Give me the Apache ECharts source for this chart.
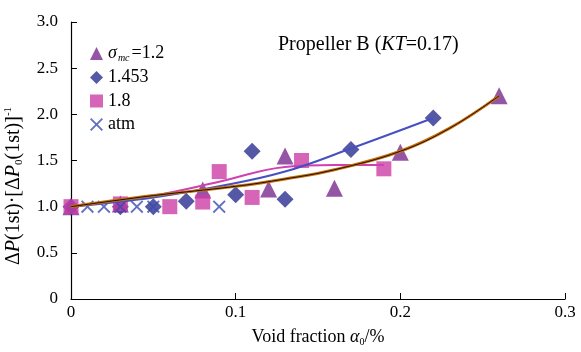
<!DOCTYPE html>
<html><head><meta charset="utf-8">
<script src="https://cdn.jsdelivr.net/npm/echarts@6/dist/echarts.min.js"></script>
<style>html,body{margin:0;padding:0;background:#fff}#c{width:581px;height:352px}</style>
</head><body><div id="c"></div>
<script>
var xTicks = [0, 0.1, 0.2, 0.3];
var yTicks = [0, 0.5, 1.0, 1.5, 2.0, 2.5, 3.0];
var tri = [[0,1.0],[0.03,1.03],[0.08,1.18],[0.12,1.19],[0.13,1.55],[0.16,1.2],[0.2,1.59],[0.26,2.2]];
var dia = [[0,1.0],[0.03,1.0],[0.05,1.0],[0.07,1.06],[0.1,1.13],[0.11,1.6],[0.13,1.08],[0.17,1.62],[0.22,1.96]];
var sq = [[0,1.0],[0.03,1.03],[0.06,1.0],[0.08,1.05],[0.09,1.38],[0.11,1.1],[0.14,1.5],[0.19,1.41]];
var atm = [[0.01,1.0],[0.02,1.0],[0.03,1.0],[0.04,1.0],[0.05,1.0],[0.09,1.0]];
var triFit = [[0,1.0],[0.05,1.12],[0.1,1.22],[0.13,1.3],[0.16,1.4],[0.2,1.6],[0.23,1.85],[0.26,2.2]];
var diaFit = [[0,1.0],[0.05,1.1],[0.09,1.22],[0.13,1.38],[0.17,1.63],[0.22,1.96]];
var sqFit = [[0,1.0],[0.05,1.12],[0.09,1.27],[0.13,1.43],[0.16,1.45],[0.19,1.45]];

var F = 'Liberation Serif';
var crossPath = 'path://M0,1L1,0L5,4L9,0L10,1L6,5L10,9L9,10L5,6L1,10L0,9L4,5Z';
var chart = echarts.init(document.getElementById('c'));
chart.setOption({
  animation: false,
  grid: {left: 71, right: 16, top: 22, bottom: 47},
  xAxis: {type: 'value', min: 0, max: 0.3, interval: 0.1,
    axisLine: {lineStyle: {color: '#000', width: 1.2}},
    axisTick: {inside: true, length: 6, lineStyle: {color: '#000'}},
    splitLine: {show: false},
    axisLabel: {color: '#000', fontFamily: F, fontSize: 17, margin: 5, formatter: function(v){return xTicks.indexOf(+v.toFixed(1))>=0 ? String(+v.toFixed(1)) : '';}},
    name: '{n|Void fraction }{i|α}{s|0}{n|/%}', nameLocation: 'middle', nameGap: 29,
    nameTextStyle: {rich: {
      n: {fontFamily: F, fontSize: 18, color: '#000'},
      i: {fontFamily: F, fontSize: 18, fontStyle: 'italic', color: '#000'},
      s: {fontFamily: F, fontSize: 10, color: '#000', padding: [9,0,0,0]}
    }}
  },
  yAxis: {type: 'value', min: 0, max: 3, interval: 0.5,
    axisLine: {show: true, lineStyle: {color: '#000', width: 1.2}},
    axisTick: {show: true, inside: true, length: 6, lineStyle: {color: '#000'}},
    splitLine: {show: false},
    axisLabel: {color: '#000', fontFamily: F, fontSize: 17, margin: 13, formatter: function(v){return v===0 ? '0' : v.toFixed(1);}}
  },
  legend: {orient: 'vertical', left: 85, top: 39, itemWidth: 13, itemHeight: 13, itemGap: 5.5,
    data: ['t', 'd', 's', 'a'],
    formatter: function(n){
      return {t: '{i|σ}{s|mc}{n|=1.2}', d: '{n|1.453}', s: '{n|1.8}', a: '{n|atm}'}[n];
    },
    textStyle: {rich: {
      n: {fontFamily: F, fontSize: 18, lineHeight: 20, color: '#000'},
      i: {fontFamily: F, fontSize: 18, lineHeight: 20, fontStyle: 'italic', color: '#000'},
      s: {fontFamily: F, fontSize: 10, lineHeight: 20, fontStyle: 'italic', color: '#000', padding: [9,2,0,1]}
    }}
  },
  graphic: [
    {type: 'text', left: 278, top: 35, style: {
      rich: {n: {fontFamily: F, fontSize: 20, fill: '#000'}, i: {fontFamily: F, fontSize: 20, fontStyle: 'italic', fill: '#000'}},
      text: '{n|Propeller B (}{i|KT}{n|=0.17)}'}},
    {type: 'text', x: 14, y: 186, rotation: Math.PI/2, style: {
      align: 'center', verticalAlign: 'middle',
      rich: {
        n: {fontFamily: F, fontSize: 20, fill: '#000'},
        i: {fontFamily: F, fontSize: 20, fontStyle: 'italic', fill: '#000'},
        s: {fontFamily: F, fontSize: 11, fill: '#000', padding: [10,0,0,0]},
        u: {fontFamily: F, fontSize: 11, fill: '#000', padding: [0,0,12,0]}
      },
      text: '{n|Δ}{i|P}{n|(1st)·[Δ}{i|P}{s|0}{n|(1st)]}{u|-1}'}}
  ],
  series: [
    {name: 't', type: 'scatter', data: tri, symbol: 'triangle', symbolSize: 17, itemStyle: {color: '#7B2A8E'}, z: 2},
    {name: 'd', type: 'scatter', data: dia, symbol: 'diamond', symbolSize: 17, itemStyle: {color: '#2B2F8F'}, z: 2},
    {name: 's', type: 'scatter', data: sq, symbol: 'rect', symbolSize: 15, itemStyle: {color: '#CC3FA6'}, z: 2},
    {name: 'a', type: 'scatter', data: atm, symbol: crossPath, symbolSize: 13, itemStyle: {color: '#3A4CB0'}, z: 3},
    {type: 'line', data: sqFit, smooth: 0.4, symbol: 'none', lineStyle: {color: '#D040B0', width: 2}, z: 4},
    {type: 'line', data: diaFit, smooth: 0.4, symbol: 'none', lineStyle: {color: '#4650C0', width: 2}, z: 4},
    {type: 'line', data: triFit, smooth: 0.4, symbol: 'none', lineStyle: {color: '#C8700F', width: 3}, z: 5},
    {type: 'line', data: triFit, smooth: 0.4, symbol: 'none', lineStyle: {color: '#201000', width: 1}, z: 6}
  ]
});
</script></body></html>
